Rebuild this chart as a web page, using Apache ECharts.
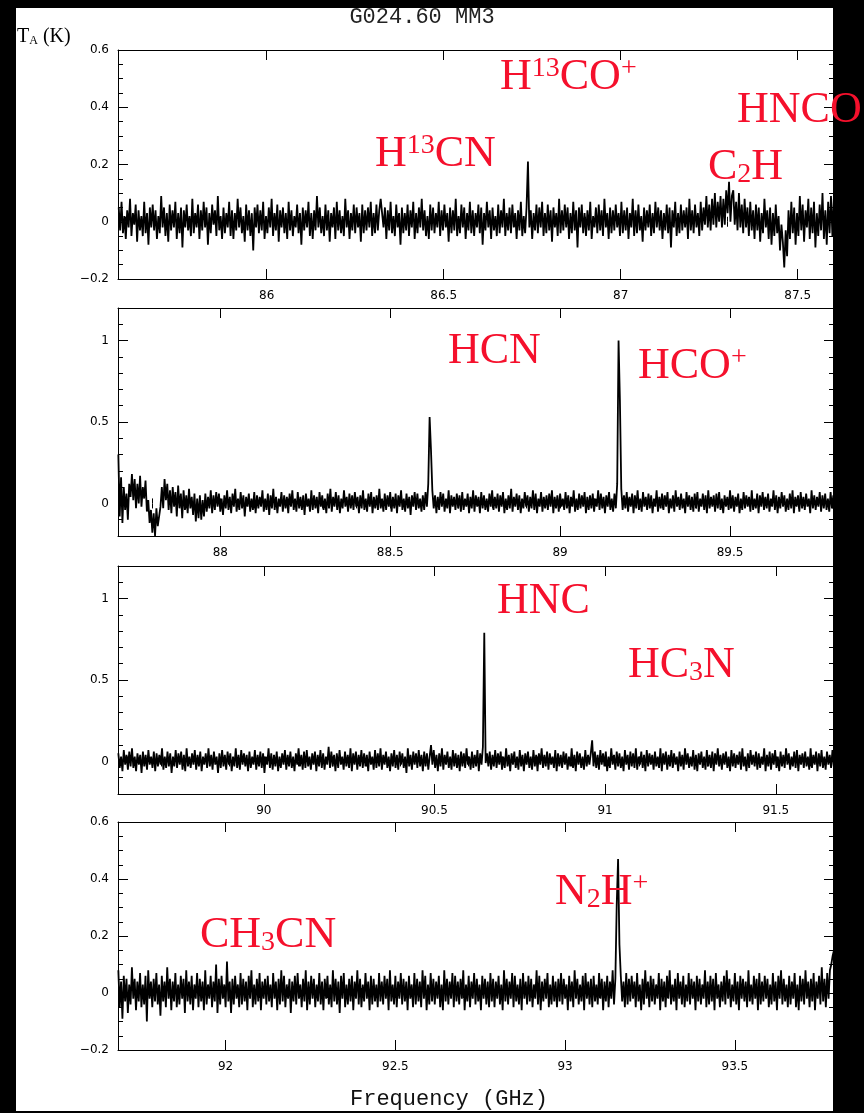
<!DOCTYPE html>
<html><head><meta charset="utf-8">
<script src="https://cdn.jsdelivr.net/npm/echarts@6/dist/echarts.min.js"></script>
<style>html,body{margin:0;padding:0;background:#fff}#c{width:864px;height:1113px}</style>
</head><body><div id="c"></div>
<script>
// ---------------- data ----------------
const panelStartGHz = [85.582, 87.700, 89.574, 91.684];   // first channel frequency of each panel
const channelGHz = 0.004;                                   // channel width
const xMinGHz = [85.580, 87.699, 89.573, 91.683];
const xMaxGHz = [87.6025, 89.806, 91.6705, 93.792];
const yMinK = [-0.2, -0.2, -0.2, -0.2];
const yMaxK = [0.6, 1.2, 1.2, 0.6];
const xMajorTicks = [[86, 86.5, 87, 87.5], [88, 88.5, 89, 89.5], [90, 90.5, 91, 91.5], [92, 92.5, 93, 93.5]];
const yMajorTicks = [[-0.2, 0, 0.2, 0.4, 0.6], [0, 0.5, 1], [0, 0.5, 1], [-0.2, 0, 0.2, 0.4, 0.6]];
const yMinorStep = [0.05, 0.1, 0.1, 0.05];
const titleText = 'G024.60 MM3';
const xAxisTitle = 'Frequency (GHz)';

// antenna temperature per channel, in units of 0.01 K
const tA1 = [
5,-3,7,-4,2,-6,4,-2,8,-5,3,-1,6,-7,4,-3,2,-5,7,-4,3,-8,5,-2,6,
-3,4,-6,2,-4,9,-2,5,-5,3,-7,6,-3,4,-2,7,-6,3,-4,5,-9,4,-2,6,-3,
2,-5,8,-4,3,-2,6,-6,4,-3,7,-2,5,-8,3,-4,6,-1,4,-5,9,-3,2,-6,5,
-4,3,-2,7,-5,4,-6,3,-3,8,-2,5,-4,2,-7,6,-3,4,-5,3,-10,5,-2,6,-4,
4,-3,7,-6,2,-4,5,-2,8,-5,3,-3,6,-7,4,-2,5,-4,3,-6,7,-3,4,-5,2,
-2,6,-4,3,-8,5,-3,4,-2,7,-5,3,-6,4,-3,9,-2,5,-4,2,-5,6,-3,4,-7,
3,-2,5,-6,7,-3,4,-4,2,-5,8,-2,4,-6,3,-3,6,-4,5,-2,3,-7,6,-4,4,
-3,5,-2,7,-5,3,-4,6,-3,4,8,3,-2,5,-6,4,-3,7,-4,2,-5,6,-2,3,-8,
5,-4,3,-3,6,-5,4,-2,7,-6,3,-4,5,-2,8,-3,4,-5,2,-6,6,-3,5,-4,3,
-2,7,-5,4,-3,6,-2,3,-7,5,-4,4,-3,8,-5,2,-4,6,-2,5,-6,3,-3,7,-4,
4,-5,3,-2,6,-4,5,-8,3,-3,7,-2,4,-6,5,-3,2,-5,6,-4,4,-2,8,-5,3,
-3,5,-4,6,-2,3,-6,4,-3,7,-5,2,-4,5,21,-2,4,-6,3,-3,6,-4,5,-2,7,
-5,3,-4,6,-3,4,-7,5,-2,3,-5,8,-4,4,-3,6,-2,5,-6,3,-4,7,-3,4,-9,
5,-2,6,-4,3,-5,4,-3,7,-6,2,-2,5,-4,6,-3,4,-5,8,-2,3,-6,5,-4,4,
-3,6,-2,3,-5,7,-4,4,-3,5,-6,3,-2,8,-5,4,-4,6,-3,2,-7,5,-3,4,-2,
6,-5,3,-4,7,-2,5,-3,4,-6,3,-3,6,-4,5,-9,4,-2,7,-5,3,-4,6,-3,4,
-2,5,-6,8,-3,4,-4,6,-2,3,-5,7,-3,5,-1,9,-2,6,-3,8,-1,10,-2,7,0,
9,-2,8,-1,11,3,14,0,9,11,-1,7,-3,10,-2,6,-4,8,-2,5,-5,7,-3,4,-6,
6,-3,5,-7,3,-4,8,-2,4,-6,5,-8,3,-5,6,-4,2,-10,-1,-7,-16,-3,-12,4,-6,
7,-4,5,-8,3,-5,9,-3,6,-7,4,-2,8,-6,5,-4,7,-9,3,-5,6,-3,10,-6,4,
-8,7,-4,9,-5,8];
const tA2 = [
30,-8,16,-12,10,-4,6,-10,12,4,18,2,15,-3,12,0,17,-2,10,3,14,-5,2,-12,-4,
-18,-6,-20,-3,-14,-8,-2,10,-3,15,2,12,-4,8,-6,10,-2,7,-8,11,-3,6,-9,8,-4,
5,-6,9,-3,4,-7,6,-11,3,-9,5,-10,2,-8,6,-5,4,-3,8,-6,5,-4,7,-2,6,
-5,3,-7,5,-3,8,-4,4,-6,6,-2,9,-5,3,-4,7,-3,5,-8,4,-2,6,-5,3,-4,
7,-6,5,-3,4,-2,8,-5,3,-4,6,-7,5,-3,9,-4,4,-6,3,-2,7,-5,5,-3,4,
-6,6,-2,8,-4,3,-5,7,-3,4,-4,5,-7,6,-2,3,-5,8,-4,5,-3,4,-6,7,-2,
5,-4,3,-6,6,-3,9,-5,4,-2,7,-4,5,-6,3,-3,8,-2,4,-5,6,-3,5,-4,7,
-2,4,-6,5,-3,8,-4,3,-5,6,-2,7,-6,4,-3,5,-4,9,-3,3,-5,6,-4,5,-2,
7,-5,4,-3,6,-6,5,-2,8,-4,3,-5,6,-3,4,-7,5,-2,7,-4,6,-3,3,-5,5,
-4,7,-2,12,53,33,8,-3,5,-6,4,-4,7,-2,6,-5,3,-3,8,-6,5,-2,4,-4,6,
-3,5,-5,7,-4,3,-2,6,-6,4,-3,8,-5,5,-2,4,-6,7,-3,5,-4,3,-5,6,-2,
8,-4,4,-3,6,-5,5,-2,7,-6,3,-4,5,-3,9,-5,4,-2,6,-4,5,-6,3,-3,7,
-2,5,-5,4,-3,8,-4,6,-6,3,-2,7,-5,4,-3,5,-4,6,-2,8,-6,4,-3,5,-5,
6,-2,3,-4,7,-3,5,-6,4,-2,8,-5,3,-4,6,-3,5,-2,7,-6,4,-4,5,-3,6,
-5,3,-2,8,-4,6,-3,4,-6,5,-2,7,-4,3,-5,6,-3,12,100,63,9,-4,5,-3,7,
-5,4,-2,6,-6,5,-3,8,-4,3,-5,7,-2,4,-4,6,-3,5,-6,3,-2,8,-5,4,-3,
6,-4,5,-2,7,-6,3,-3,5,-5,8,-2,4,-4,6,-3,3,-6,7,-2,5,-4,4,-5,6,
-3,7,-5,3,-2,6,-4,5,-6,8,-3,4,-2,5,-5,6,-3,7,-4,3,-6,5,-2,4,-4,
8,-3,5,-5,4,-2,6,-6,3,-4,7,-3,5,-2,4,-5,8,-4,3,-3,6,-6,5,-2,7,
-4,4,-3,6,-5,3,-2,8,-4,5,-6,4,-3,7,-2,5,-5,3,-4,6,-3,8,-6,4,-2,
5,-5,7,-3,4,-4,6,-2,3,-6,8,-3,5,-4,4,-2,7,-5,5,-3,6,-4,3,-5,7,
-3,5];
const tA3 = [
5,-4,3,-6,7,-2,4,-5,6,-3,8,-4,3,-6,5,-2,4,-7,6,-3,4,-5,7,-2,3,
-4,6,-6,5,-3,4,-2,8,-5,3,-4,6,-3,5,-7,3,-3,7,-4,5,-2,6,-5,4,-6,
8,-3,3,-4,5,-2,7,-5,4,-3,6,-6,3,-2,5,-4,8,-3,4,-5,6,-2,3,-7,5,
-4,7,-3,4,-5,6,-2,5,-6,3,-3,8,-4,4,-5,7,-2,5,-3,4,-6,6,-4,3,-2,
7,-5,4,-3,6,-4,5,-7,3,-2,8,-4,5,-5,4,-3,6,-6,3,-4,5,-2,7,-5,4,
-3,6,-4,3,-6,5,-2,8,-3,4,-5,6,-4,7,-3,3,-5,5,-2,6,-6,4,-3,7,-4,
5,-5,3,-2,9,-4,6,-3,4,-6,5,-4,7,-2,3,-5,6,-3,4,-4,8,-6,5,-2,6,
-5,4,-3,7,-4,5,-3,4,-6,6,-2,3,-5,7,-4,5,-3,8,-5,4,-2,6,-4,3,-6,
5,-3,7,-4,4,-5,6,-2,5,-4,3,-7,8,-3,4,-5,6,-2,5,-4,7,-3,4,-6,6,
-3,5,-5,3,10,-2,7,-4,4,-6,5,-3,8,-5,4,-2,6,-4,3,-5,7,-3,5,-4,4,
-6,6,-3,5,-4,8,-2,3,-5,6,-4,4,-3,7,-6,5,-2,9,79,-1,5,-3,6,-5,4,
-3,7,-4,5,-2,6,-5,3,-4,8,-3,4,-6,5,-2,6,-4,3,-5,7,-3,4,-6,5,-2,
6,-4,3,-5,7,-3,4,-6,5,-2,8,-4,4,-3,6,-5,5,-2,3,-4,7,-6,5,-3,4,
-4,6,-2,5,-5,3,-3,8,-4,4,-6,6,-2,5,-4,3,-5,7,-3,4,-2,5,13,-3,6,
-4,4,-5,7,-2,5,-3,6,-6,3,-4,8,-2,4,-5,6,-3,5,-4,3,-6,7,-2,4,-5,
6,-3,5,-4,8,-5,3,-2,6,-4,4,-6,7,-3,5,-2,4,-5,6,-3,3,-4,8,-6,5,
-2,6,-5,4,-3,7,-4,5,-2,3,-6,6,-3,4,-5,8,-2,5,-4,3,-3,7,-5,4,-6,
5,-2,6,-4,3,-5,7,-3,4,-4,6,-6,5,-2,8,-3,4,-5,5,-2,6,-4,3,-6,7,
-3,5,-4,4,-2,6,-5,8,-3,3,-6,5,-4,7,-2,4,-3,6,-5,5,-4,3,-2,8,-6,
4,-3,6,-5,5,-2,7,-4,3,-6,6,-3,4,-4,8,-2,5,-5,3,-3,6,-4,7,-6,4,
-2,5,-4,6,-3,3,-5,8,-4,4,-2,6,-6,5,-3,7,-4,3,-5,6,-2,4,-4,7,-3];
const tA4 = [
8,-5,4,-9,6,-3,5,-7,3,-4,9,-2,5,-6,4,-3,7,-5,3,-4,6,-10,8,-2,4,
-5,5,-3,7,-4,3,-8,6,-3,4,-5,9,-2,5,-6,4,-3,7,-5,3,-4,6,-2,5,-7,
8,-3,4,-4,6,-6,3,-2,7,-5,5,-3,4,-6,8,-4,3,-2,6,-5,4,-3,10,-7,5,
-4,6,-2,3,-5,11,-3,4,-7,5,-4,6,-2,3,-5,7,-4,5,-3,4,-6,6,-2,8,-5,
3,-4,5,-3,7,-6,4,-2,5,-4,6,-3,3,-5,7,-2,4,-6,5,-4,8,-3,6,-5,3,
-2,5,-7,4,-3,6,-4,7,-2,3,-5,5,-3,8,-6,4,-4,6,-2,5,-5,3,-3,7,-4,
4,-6,5,-2,6,-4,3,-5,8,-3,5,-4,4,-7,6,-2,7,-5,3,-4,5,-3,6,-6,4,
-2,8,-4,5,-5,3,-3,7,-2,4,-6,6,-4,5,-3,3,-5,7,-3,4,-4,6,-2,5,-6,
8,-3,3,-4,6,-5,4,-2,7,-4,5,-3,4,-6,6,-2,3,-5,7,-4,5,-3,4,-5,8,
-2,6,-6,3,-4,7,-3,5,-4,4,-2,6,-5,3,-6,8,-3,5,-4,4,-2,7,-5,6,-3,
4,-4,5,-2,8,-6,3,-3,6,-5,4,-2,7,-4,5,-3,3,-6,6,-2,5,-4,4,-5,7,
-3,5,-5,4,-2,6,-4,3,-6,8,-3,5,-4,4,-2,7,-5,6,-3,3,-4,5,-6,7,-2,
4,-4,6,-3,5,-5,3,-2,8,-4,6,-6,4,-3,5,-2,7,-5,3,-4,6,-3,4,-5,5,
-3,7,-4,5,-2,3,-6,6,-3,4,-5,8,-2,5,-4,3,-3,6,-6,7,-2,4,-4,5,-5,
6,-3,3,-4,7,-2,5,-6,4,-3,6,-5,4,-2,8,-4,5,31,47,17,6,-3,4,-5,7,
-4,5,-3,6,-2,4,-5,7,-3,3,-6,5,-4,8,-2,4,-5,6,-3,5,-4,3,-2,7,-6,
5,-3,4,-5,6,-2,8,-4,3,-3,5,-6,7,-2,4,-4,6,-5,3,-3,7,-4,5,-2,4,
-6,6,-3,5,-4,3,-2,8,-5,4,-4,6,-3,5,-6,7,-2,3,-5,4,-3,6,-4,8,-2,
5,-5,3,-3,7,-4,4,-6,6,-2,5,-3,4,-5,8,-3,3,-4,6,-2,5,-6,7,-4,4,
-3,6,-2,5,-5,3,-4,7,-3,4,-6,6,-2,8,-4,5,-3,3,-5,6,-4,4,-2,7,-5,
3,-6,6,-3,5,-4,8,-2,4,-5,5,-3,7,-6,4,-2,6,-4,9,-3,5,-5,7,-2,8,
10,13,15];
const spectra = [tA1, tA2, tA3, tA4];

// ---------------- layout / style ----------------
const GRID_TOP = [50, 308, 566, 822];
const GRID_H = [229, 228, 228, 228];
const TICK_FONT = 'DejaVu Sans';
const RED = '#f5102c';

const fmtNum = v => (v < 0 ? '\u2212' + Math.abs(v) : String(v));

const grid = GRID_TOP.map((t, i) => ({ left: 118, right: 30, top: t, height: GRID_H[i], outerBoundsMode: 'none', containLabel: false }));
const xAxis = [], yAxis = [];
const axLine = { show: true, onZero: false, lineStyle: { color: '#000', width: 1 } };
const tickStyle = { color: '#000', width: 1 };
const lblStyle = { fontFamily: TICK_FONT, fontSize: 12, color: '#000' };

for (let g = 0; g < 4; g++) {
  const xMinor = [];
  for (let k = Math.ceil(xMinGHz[g] * 10 - 1e-9); k <= Math.floor(xMaxGHz[g] * 10 + 1e-9); k++) xMinor.push(+(k / 10).toFixed(1));
  const yMinor = [];
  const nY = Math.round((yMaxK[g] - yMinK[g]) / yMinorStep[g]);
  for (let k = 0; k <= nY; k++) yMinor.push(+(yMinK[g] + k * yMinorStep[g]).toFixed(3));
  const xb = { gridIndex: g, type: 'value', min: xMinGHz[g], max: xMaxGHz[g], splitLine: { show: false } };
  const yb = { gridIndex: g, type: 'value', min: yMinK[g], max: yMaxK[g], splitLine: { show: false } };
  xAxis.push(
    Object.assign({}, xb, { position: 'bottom', axisLine: axLine,
      axisTick: { show: true, inside: true, length: 10, customValues: xMajorTicks[g], lineStyle: tickStyle },
      axisLabel: Object.assign({ show: true, customValues: xMajorTicks[g], margin: 11, formatter: fmtNum }, lblStyle) }),
    Object.assign({}, xb, { position: 'bottom', axisLine: { show: false },
      axisTick: { show: true, inside: true, length: 5, customValues: xMinor, lineStyle: tickStyle }, axisLabel: { show: false } }),
    Object.assign({}, xb, { position: 'top', axisLine: axLine,
      axisTick: { show: true, inside: true, length: 10, customValues: xMajorTicks[g], lineStyle: tickStyle }, axisLabel: { show: false } }),
    Object.assign({}, xb, { position: 'top', axisLine: { show: false },
      axisTick: { show: true, inside: true, length: 5, customValues: xMinor, lineStyle: tickStyle }, axisLabel: { show: false } })
  );
  yAxis.push(
    Object.assign({}, yb, { position: 'left', axisLine: axLine,
      axisTick: { show: true, inside: true, length: 10, customValues: yMajorTicks[g], lineStyle: tickStyle },
      axisLabel: Object.assign({ show: true, customValues: yMajorTicks[g], margin: 9, formatter: fmtNum }, lblStyle) }),
    Object.assign({}, yb, { position: 'left', axisLine: { show: false },
      axisTick: { show: true, inside: true, length: 5, customValues: yMinor, lineStyle: tickStyle }, axisLabel: { show: false } }),
    Object.assign({}, yb, { position: 'right', axisLine: axLine,
      axisTick: { show: true, inside: true, length: 10, customValues: yMajorTicks[g], lineStyle: tickStyle }, axisLabel: { show: false } }),
    Object.assign({}, yb, { position: 'right', axisLine: { show: false },
      axisTick: { show: true, inside: true, length: 5, customValues: yMinor, lineStyle: tickStyle }, axisLabel: { show: false } })
  );
}

const series = spectra.map((arr, g) => ({
  type: 'line', xAxisIndex: 4 * g, yAxisIndex: 4 * g,
  data: arr.map((v, i) => [panelStartGHz[g] + i * channelGHz, v / 100]),
  showSymbol: false, symbol: 'none', clip: true, silent: true,
  lineStyle: { color: '#000', width: 1.8, join: 'miter', miterLimit: 2 }, z: 3
}));

// molecule labels (rich text)
const richRed = {
  n:   { fontFamily: 'Liberation Serif', fontSize: 44, lineHeight: 44, verticalAlign: 'middle', fill: RED },
  sup: { fontFamily: 'Liberation Serif', fontSize: 28, lineHeight: 22, verticalAlign: 'top', fill: RED },
  sub: { fontFamily: 'Liberation Serif', fontSize: 28, lineHeight: 13, verticalAlign: 'bottom', fill: RED }
};
function rt(parts) { return parts.map(p => '{' + p[0] + '|' + p[1] + '}').join(''); }
const molecules = [
  { x: 500, y: 55,  t: [['n','H'],['sup','13'],['n','CO'],['sup','+']] },
  { x: 737, y: 88,  t: [['n','HNCO']] },
  { x: 375, y: 132, t: [['n','H'],['sup','13'],['n','CN']] },
  { x: 708, y: 145, t: [['n','C'],['sub','2'],['n','H']] },
  { x: 448, y: 329, t: [['n','HCN']] },
  { x: 638, y: 344, t: [['n','HCO'],['sup','+']] },
  { x: 497, y: 579, t: [['n','HNC']] },
  { x: 628, y: 643, t: [['n','HC'],['sub','3'],['n','N']] },
  { x: 200, y: 913, t: [['n','CH'],['sub','3'],['n','CN']] },
  { x: 555, y: 870, t: [['n','N'],['sub','2'],['n','H'],['sup','+']] }
];

const graphic = [
  { type: 'rect', shape: { x: 0, y: 0, width: 16, height: 1113 }, style: { fill: '#000' }, z: 50, silent: true },
  { type: 'rect', shape: { x: 0, y: 0, width: 864, height: 8 }, style: { fill: '#000' }, z: 50, silent: true },
  { type: 'rect', shape: { x: 833, y: 0, width: 31, height: 1113 }, style: { fill: '#000' }, z: 50, silent: true },
  { type: 'rect', shape: { x: 0, y: 1111, width: 864, height: 2 }, style: { fill: '#000' }, z: 50, silent: true },
  { type: 'text', x: 422, y: 17, z: 60, silent: true,
    style: { text: titleText, font: '22px "Liberation Mono"', fill: '#222', align: 'center', verticalAlign: 'middle' } },
  { type: 'text', x: 449, y: 1099, z: 60, silent: true,
    style: { text: xAxisTitle, font: '22px "Liberation Mono"', fill: '#111', align: 'center', verticalAlign: 'middle' } },
  { type: 'text', x: 17, y: 27, z: 60, silent: true,
    style: { text: '{n|T}{s|A}{n| (K)}', align: 'left', verticalAlign: 'top',
      rich: { n: { fontFamily: 'Liberation Serif', fontSize: 20, lineHeight: 20, verticalAlign: 'middle', fill: '#000' },
              s: { fontFamily: 'Liberation Serif', fontSize: 12, lineHeight: 8, verticalAlign: 'bottom', fill: '#000' } } } }
].concat(molecules.map(m => ({
  type: 'text', x: m.x, y: m.y, z: 100, silent: true,
  style: { text: rt(m.t), align: 'left', verticalAlign: 'top', rich: richRed }
})));

const chart = echarts.init(document.getElementById('c'), null, { renderer: 'canvas' });
chart.setOption({
  animation: false,
  backgroundColor: '#fff',
  grid, xAxis, yAxis, series, graphic
});
</script></body></html>
